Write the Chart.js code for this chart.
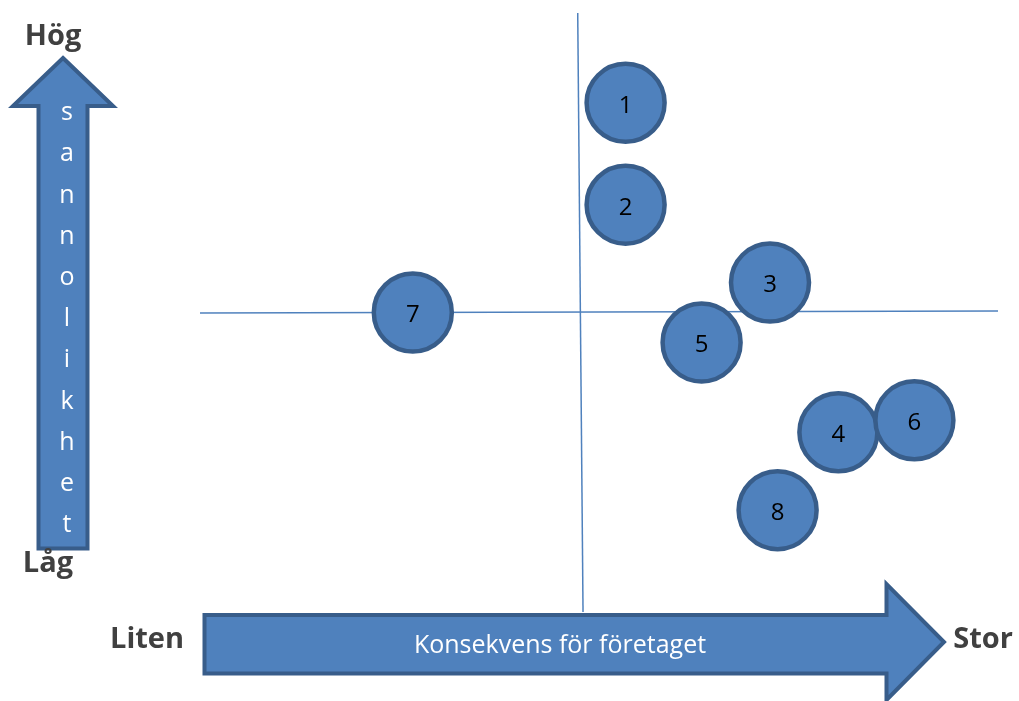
<!DOCTYPE html>
<html>
<head>
<meta charset="utf-8">
<script src="https://cdn.jsdelivr.net/npm/chart.js@4"></script>
<style>
  body { margin: 0; background: #fff; }
  #riskChart { display: block; }
</style>
</head>
<body>
<canvas id="riskChart" width="1019" height="701"></canvas>
<script>
// risker (nummer), konsekvens (x) och sannolikhet (y), skala 0-10
const risker = ['1', '2', '3', '4', '5', '6', '7', '8'];
const konsekvens = [5.6, 5.6, 7.5, 8.4, 6.6, 9.4, 2.8, 7.6];
const sannolikhet = [8.5, 6.8, 5.5, 3.0, 4.5, 3.2, 5.0, 1.7];

const mittX = 5;
const mittY = 5;
const yTitel = 'sannolikhet';
const xTitel = 'Konsekvens för företaget';
const yHog = 'Hög', yLag = 'Låg';
const xLiten = 'Liten', xStor = 'Stor';

const fyll = '#4F81BD';
const kant = '#385D8A';

document.addEventListener('DOMContentLoaded', function() {
    const ctx = document.getElementById('riskChart').getContext('2d');

    const dekor = {
        id: 'dekor',
        beforeDatasetsDraw(chart) {
            const c = chart.ctx;
            const x = chart.scales.x, y = chart.scales.y;
            c.save();
            c.strokeStyle = fyll;
            c.lineWidth = 1.5;
            // vertikal mittlinje
            c.beginPath();
            c.moveTo(x.getPixelForValue(mittX - 0.03), y.getPixelForValue(y.max));
            c.lineTo(x.getPixelForValue(mittX + 0.04), y.getPixelForValue(y.min));
            c.stroke();
            // horisontell mittlinje
            c.beginPath();
            c.moveTo(x.getPixelForValue(x.min), y.getPixelForValue(mittY - 0.01));
            c.lineTo(x.getPixelForValue(x.max), y.getPixelForValue(mittY + 0.025));
            c.stroke();
            c.restore();
        },
        afterDatasetsDraw(chart) {
            const c = chart.ctx;
            c.save();
            // siffror i cirklarna
            const meta = chart.getDatasetMeta(0);
            c.fillStyle = '#000';
            c.font = '24px "Open Sans"';
            c.textAlign = 'center';
            c.textBaseline = 'middle';
            meta.data.forEach(function(p, i) {
                c.fillText(risker[i], p.x, p.y + 3);
            });

            // uppåtpil (sannolikhet)
            c.fillStyle = fyll;
            c.strokeStyle = kant;
            c.lineWidth = 4;
            c.lineJoin = 'miter';
            c.beginPath();
            c.moveTo(63, 58);
            c.lineTo(113, 106);
            c.lineTo(87.5, 106);
            c.lineTo(87.5, 548.5);
            c.lineTo(38.5, 548.5);
            c.lineTo(38.5, 106);
            c.lineTo(13, 106);
            c.closePath();
            c.fill();
            c.stroke();

            // högerpil (konsekvens)
            c.beginPath();
            c.moveTo(204.5, 615);
            c.lineTo(886.5, 615);
            c.lineTo(886.5, 584);
            c.lineTo(944, 642);
            c.lineTo(886.5, 700);
            c.lineTo(886.5, 673.5);
            c.lineTo(204.5, 673.5);
            c.closePath();
            c.fill();
            c.stroke();

            // text i pilarna
            c.fillStyle = '#fff';
            c.font = '25px "Open Sans"';
            c.textAlign = 'center';
            c.textBaseline = 'middle';
            c.fillText(xTitel, 560, 646);
            c.font = '25px "Open Sans"';
            yTitel.split('').forEach(function(ch, i) {
                c.fillText(ch, 67, 113 + i * 41.2);
            });

            // ändetiketter
            c.fillStyle = '#404040';
            c.font = 'bold 29px "Open Sans"';
            c.textAlign = 'center';
            c.fillText(yHog, 53, 37);
            c.fillText(yLag, 48, 564);
            c.fillText(xLiten, 147, 640);
            c.fillText(xStor, 983, 640);
            c.restore();
        }
    };

    new Chart(ctx, {
        type: 'scatter',
        data: {
            labels: risker,
            datasets: [{
                label: 'Risker',
                data: konsekvens.map(function(v, i) { return { x: v, y: sannolikhet[i] }; }),
                backgroundColor: fyll,
                borderColor: kant,
                borderWidth: 4.5,
                pointRadius: 39,
                pointHoverRadius: 39,
                clip: false
            }]
        },
        options: {
            responsive: false,
            animation: false,
            devicePixelRatio: 1,
            layout: {
                autoPadding: false,
                padding: { left: 200, right: 21, top: 13, bottom: 89 }
            },
            scales: {
                x: { type: 'linear', min: 0, max: 10.5, display: false },
                y: { type: 'linear', min: 0, max: 10, display: false }
            },
            plugins: {
                legend: { display: false },
                tooltip: { enabled: false }
            },
            events: []
        },
        plugins: [dekor]
    });
});
</script>
</body>
</html>
